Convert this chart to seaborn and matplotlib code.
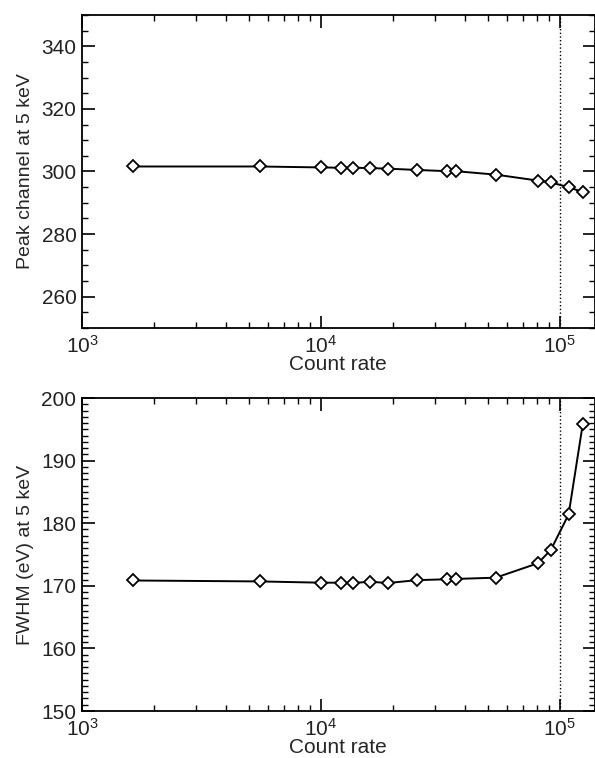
import numpy as np
import pandas as pd
import seaborn as sns
import matplotlib
matplotlib.use('Agg')
import matplotlib.pyplot as plt
from matplotlib.ticker import MultipleLocator, LogLocator, NullFormatter

# count rate and measured values at 5 keV
count_rate = [1640, 5560, 10000, 12200, 13700, 16000, 19100, 25200,
              33800, 36700, 54000, 81000, 91700, 109000, 125000]
peak_channel = [301.6, 301.6, 301.3, 301.2, 301.2, 301.1, 300.9, 300.5,
                300.1, 300.1, 299.0, 297.1, 296.5, 295.0, 293.4]
fwhm_ev = [170.85, 170.7, 170.5, 170.5, 170.45, 170.65, 170.45, 170.9,
           171.05, 171.1, 171.3, 173.6, 175.7, 181.4, 195.9]
limit_rate = 1e5

df = pd.DataFrame({'rate': count_rate, 'peak': peak_channel, 'fwhm': fwhm_ev})

sns.set_style('ticks')
plt.rcParams['font.family'] = ['Liberation Sans', 'DejaVu Sans']
plt.rcParams['font.size'] = 14

fig = plt.figure(figsize=(5.95, 7.58), dpi=100)
ax1 = fig.add_axes([0.1378, 0.5673, 0.8615, 0.4129])
ax2 = fig.add_axes([0.1378, 0.0620, 0.8615, 0.4129])

panels = [
    (ax1, 'peak', 'Peak channel at 5 keV', (250, 350), 20, 5),
    (ax2, 'fwhm', 'FWHM (eV) at 5 keV', (150, 200), 10, 1),
]

for ax, col, label, ylim, major, minor in panels:
    sns.lineplot(data=df, x='rate', y=col, ax=ax, color='black', lw=1.4,
                 marker='D', markersize=6, markerfacecolor='white',
                 markeredgecolor='black', markeredgewidth=1.3)
    ax.axvline(limit_rate, color='black', ls=':', lw=1)
    ax.set_xscale('log')
    ax.set_xlim(1e3, 1.4e5)
    ax.set_ylim(*ylim)
    ax.xaxis.set_major_locator(LogLocator(base=10, numticks=10))
    ax.xaxis.set_minor_locator(LogLocator(base=10, subs=np.arange(2, 10), numticks=10))
    ax.xaxis.set_minor_formatter(NullFormatter())
    ax.yaxis.set_major_locator(MultipleLocator(major))
    ax.yaxis.set_minor_locator(MultipleLocator(minor))
    ax.tick_params(which='both', direction='in', top=True, right=True,
                   colors='black', labelcolor='#222222')
    ax.tick_params(which='major', length=9, width=1.2, labelsize=15)
    ax.tick_params(axis='x', which='major', pad=5)
    ax.tick_params(axis='y', which='major', pad=4)
    ax.tick_params(which='minor', length=4.5, width=1)
    for s in ax.spines.values():
        s.set_linewidth(1.3)
        s.set_color('black')
    ax.set_xlabel('Count rate', fontsize=15, labelpad=-1)
    ax.set_ylabel(label, fontsize=14, labelpad=5)

fig.savefig('out.png', dpi=100)
